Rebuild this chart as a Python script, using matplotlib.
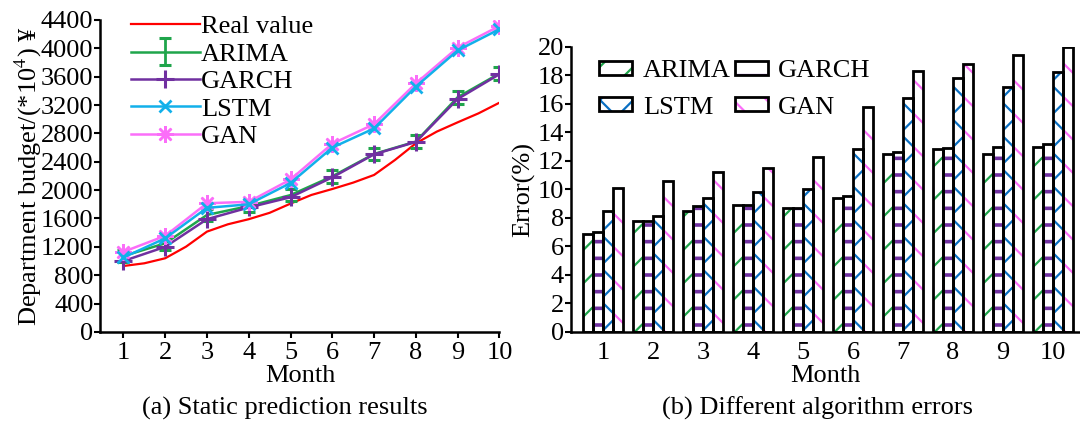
import numpy as np
import matplotlib
matplotlib.use("Agg")
import matplotlib.pyplot as plt
from matplotlib.patches import Patch
from matplotlib.legend_handler import HandlerTuple

plt.rcParams['font.family'] = ['Liberation Serif', 'DejaVu Serif']
plt.rcParams['mathtext.fontset'] = 'stix'
plt.rcParams['hatch.linewidth'] = 1.6

### data, left panel (budget, *10^4 yuan)
months = [1, 2, 3, 4, 5, 6, 7, 8, 9, 10]
real_x = [1, 1.5, 2, 2.5, 3, 3.5, 4, 4.5, 5, 5.5, 6, 6.5, 7, 7.5, 8, 8.5, 9, 9.5, 10]
real_value = [930, 968, 1039, 1203, 1415, 1518, 1590, 1680, 1810, 1932, 2016,
              2106, 2214, 2425, 2660, 2825, 2956, 3083, 3233]
arima = [1070, 1250, 1650, 1775, 1930, 2195, 2510, 2685, 3310, 3645]
arima_err = [90, 90, 90, 90, 90, 90, 90, 90, 90, 90]
garch = [1000, 1200, 1590, 1755, 1900, 2180, 2505, 2680, 3285, 3635]
lstm = [1050, 1320, 1750, 1800, 2100, 2600, 2870, 3460, 3970, 4270]
gan = [1130, 1355, 1815, 1835, 2150, 2655, 2930, 3505, 4010, 4315]

### data, right panel (error %)
err_arima = [6.9, 7.8, 8.5, 8.9, 8.7, 9.4, 12.5, 12.8, 12.5, 13.0]
err_garch = [7.0, 7.8, 8.8, 8.9, 8.7, 9.5, 12.6, 12.9, 13.0, 13.2]
err_lstm = [8.5, 8.1, 9.4, 9.8, 10.0, 12.8, 16.4, 17.8, 17.2, 18.2]
err_gan = [10.1, 10.6, 11.2, 11.5, 12.3, 15.8, 18.3, 18.8, 19.4, 20.0]

FS = 19
c_red = '#ff0000'
c_green = '#1fa54b'
c_purple = '#7030a0'
c_cyan = '#12b0ea'
c_pink = '#fb6ef9'
c_blue = '#0a6fc2'

fig = plt.figure(figsize=(10.8, 4.25), dpi=100)

### (a) static prediction results
ax1 = fig.add_axes([0.093, 0.219, 0.3694, 0.734])
h_real, = ax1.plot(real_x, real_value, color=c_red, lw=1.6, zorder=2)
h_arima = ax1.errorbar(months, arima, yerr=arima_err, color=c_green, lw=1.8,
                       elinewidth=2, capsize=4, capthick=2.2, zorder=3)
h_garch, = ax1.plot(months, garch, color=c_purple, lw=1.8, marker='+',
                    ms=13, mew=2.2, zorder=4)
h_gan, = ax1.plot(months, gan, color=c_pink, lw=1.8, marker=(8, 2, 0),
                  ms=12, mew=1.8, zorder=5)
h_lstm, = ax1.plot(months, lstm, color=c_cyan, lw=1.8, marker='x',
                   ms=8, mew=2, zorder=6)

ax1.set_xlim(0.45, 10)
ax1.set_ylim(0, 4400)
ax1.set_xticks(months)
ax1.set_yticks(np.arange(0, 4401, 400))
ax1.spines['top'].set_visible(False)
ax1.spines['right'].set_visible(False)
for s in ['left', 'bottom']:
    ax1.spines[s].set_linewidth(1.8)
ax1.tick_params(axis='y', labelsize=FS, direction='out', length=4, width=1.5, pad=1)
ax1.tick_params(axis='x', labelsize=FS, direction='out', length=4, width=1.5, pad=3)
ax1.set_ylabel('Department budget/(*10$^4$) ¥', fontsize=FS, labelpad=-2)
ax1.set_xlabel('Month', fontsize=FS, labelpad=1)
ax1.legend([h_real, h_arima, h_garch, h_lstm, h_gan],
           ['Real value', 'ARIMA', 'GARCH', 'LSTM', 'GAN'],
           loc='upper left', bbox_to_anchor=(0.05, 1.05), frameon=False,
           fontsize=FS, handlelength=2.6, handletextpad=0.05,
           labelspacing=0.15, borderaxespad=0)
fig.text(0.264, 0.04, '(a) Static prediction results', fontsize=FS,
         ha='center', va='center')

### (b) different algorithm errors
ax2 = fig.add_axes([0.5287, 0.219, 0.4713, 0.671])
x = np.array(months)
w = 0.2
series = [(err_arima, c_green, '/', 1.6), (err_garch, c_purple, '-', 2.6),
          (err_lstm, c_blue, 'x', 1.6), (err_gan, c_pink, '\\', 1.6)]
handles = []
for i, (vals, col, hat, hlw) in enumerate(series):
    plt.rcParams['hatch.linewidth'] = hlw
    pos = x + (i - 1.5) * w
    ax2.bar(pos, vals, w, facecolor='white', edgecolor=col, hatch=hat,
            linewidth=0, zorder=2)
    ax2.bar(pos, vals, w, fill=False, edgecolor='black', linewidth=2, zorder=3)
    p1 = Patch(facecolor='white', edgecolor=col, hatch=hat, linewidth=0)
    p2 = Patch(fill=False, edgecolor='black', linewidth=2)
    handles.append((p1, p2))
plt.rcParams['hatch.linewidth'] = 1.6

ax2.set_xlim(0.35, 10.54)
ax2.set_ylim(0, 20)
ax2.set_xticks(months)
ax2.set_yticks(np.arange(0, 21, 2))
ax2.spines['top'].set_visible(False)
ax2.spines['right'].set_visible(False)
for s in ['left', 'bottom']:
    ax2.spines[s].set_linewidth(1.8)
ax2.tick_params(axis='y', labelsize=FS, direction='out', length=4, width=1.5, pad=1)
ax2.tick_params(axis='x', labelsize=FS, length=0, pad=7)
ax2.set_ylabel('Error(%)', fontsize=FS, labelpad=2)
ax2.set_xlabel('Month', fontsize=FS, labelpad=1)
# ncol=2 fills column-wise: ARIMA/GARCH on row 1, LSTM/GAN on row 2
leg_order = [0, 2, 1, 3]
leg_labels = ['ARIMA', 'GARCH', 'LSTM', 'GAN']
ax2.legend([handles[k] for k in leg_order], [leg_labels[k] for k in leg_order],
           ncol=2, handler_map={tuple: HandlerTuple(ndivide=1, pad=0)},
           loc='upper left', bbox_to_anchor=(0.035, 0.99), frameon=False,
           fontsize=FS, handlelength=1.25, handleheight=0.45,
           handletextpad=0.4, columnspacing=0.15, labelspacing=0.55,
           borderaxespad=0)
fig.text(0.757, 0.04, '(b) Different algorithm errors', fontsize=FS,
         ha='center', va='center')

fig.savefig('out.png', dpi=100)
